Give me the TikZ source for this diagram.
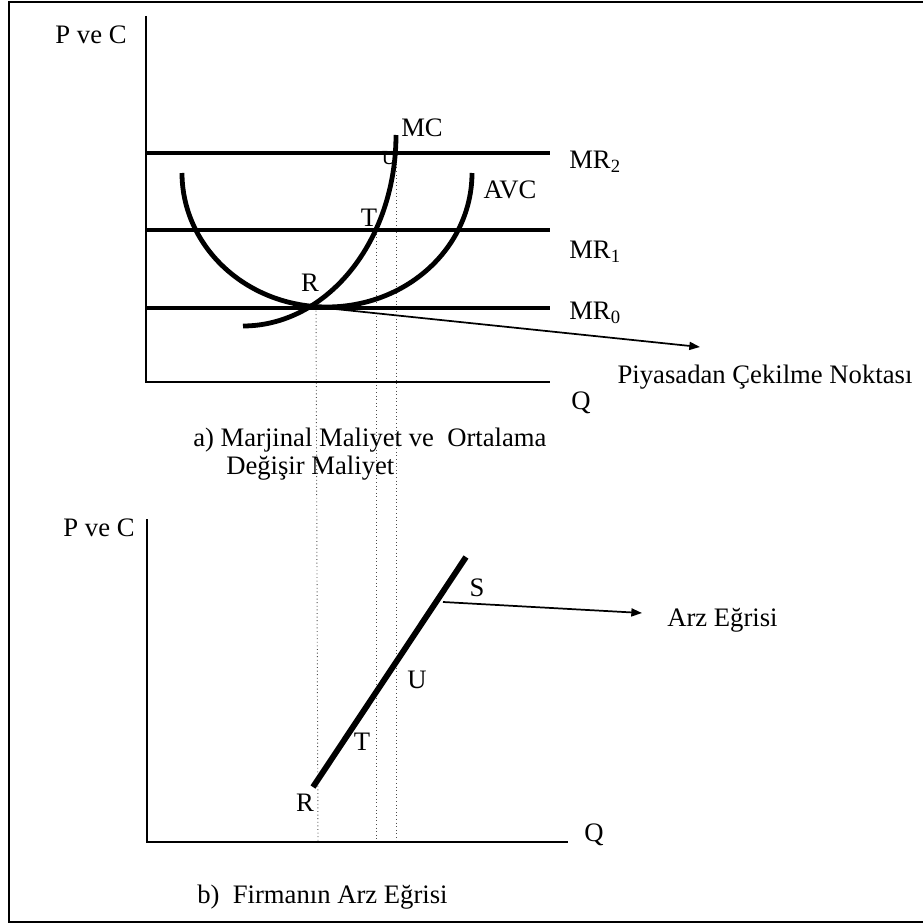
\documentclass[tikz,border=0pt]{standalone}
\usepackage{fontspec}
\setmainfont{Liberation Serif}
\usepackage{tikz}
\usetikzlibrary{positioning}
\usetikzlibrary{calc,arrows.meta}

\begin{document}
\begin{tikzpicture}[
x=0.75pt, y=-0.75pt,
txtnode/.style={inner sep=0pt, font=\fontsize{20}{24}\selectfont},
axisline/.style={line width=2.2pt},
mrline/.style={line width=3.6pt},
curveline/.style={line width=3.6pt},
guide/.style={dotted, gray!60!black, line width=0.7pt},
pointer/.style={line width=1.3pt, -{Triangle[length=8pt, width=6pt]}}
]
\useasboundingbox (0,0) rectangle (922,924);
%Frame
\draw[line width=1.1pt] (925,2) -- (9,2) -- (9,922) -- (925,922);
%Points
\coordinate (O1) at (146,382);
\coordinate (Y1) at (146,16);
\coordinate (X1) at (550,382);
\coordinate (O2) at (147,842);
\coordinate (Y2) at (147,519);
\coordinate (X2) at (568,842);
\coordinate (A2) at (146,153);
\coordinate (B2) at (550,153);
\coordinate (A1) at (146,230);
\coordinate (B1) at (550,230);
\coordinate (A0) at (146,308);
\coordinate (B0) at (550,308);
\coordinate (R) at (316,307);
\coordinate (T) at (376,230);
\coordinate (U) at (396,153);
\coordinate (Rb) at (318,842);
\coordinate (Tb) at (376,842);
\coordinate (Ub) at (396,842);
\coordinate (S1) at (313,787);
\coordinate (S2) at (466,557);
\coordinate (Sp) at (443,602);
%Nodes
\node[txtnode, font=\fontsize{15}{15}\selectfont] (smallU) at (389,158) {U};
\node[txtnode] (pc1) at (91,35) {P ve C};
\node[txtnode] (pc2) at (99,528) {P ve C};
\node[txtnode] (mc) at (422,128) {MC};
\node[txtnode] (avc) at (510,190) {AVC};
\node[txtnode] (lblT) at (369,218) {T};
\node[txtnode] (lblR) at (310,283) {R};
\node[txtnode] (mr2) at (595,162) {MR\textsubscript{2}};
\node[txtnode] (mr1) at (595,252) {MR\textsubscript{1}};
\node[txtnode] (mr0) at (595,313) {MR\textsubscript{0}};
\node[txtnode] (q1) at (581,403) {Q};
\node[txtnode] (exit) at (765,377) {Piyasadan Çekilme Noktası};
\node[txtnode, anchor=west] (capa1) at (193,440) {a) Marjinal Maliyet ve\ \ Ortalama};
\node[txtnode, anchor=west] (capa2) at (226,468) {Değişir Maliyet};
\node[txtnode] (lblS) at (477,588) {S};
\node[txtnode] (lblUb) at (417,680) {U};
\node[txtnode] (lblTb) at (362,742) {T};
\node[txtnode] (lblRb) at (305,803) {R};
\node[txtnode] (q2) at (594,835) {Q};
\node[txtnode, anchor=west] (arz) at (667,620) {Arz Eğrisi};
\node[txtnode, anchor=west] (capb) at (197,897) {b)\ \ Firmanın Arz Eğrisi};
\coordinate (exitTip) at (700,347);
\coordinate (arzTip) at (642,613);
%Lines
\draw[guide] (R) -- (Rb);
\draw[guide] (T) -- (Tb);
\draw[guide] (U) -- (Ub);
\draw[axisline] (Y1) -- (O1) -- (X1);
\draw[axisline] (Y2) -- (O2) -- (X2);
\draw[mrline] (A2) -- (B2);
\draw[mrline] (A1) -- (B1);
\draw[mrline] (A0) -- (B0);
\draw[curveline] plot[domain=0:180, samples=90, smooth] ({327+145*cos(\x)},{173+134*sin(\x)});
\draw[curveline] plot[domain=0:90, samples=60, smooth] ({243+153*cos(\x)},{135+191*sin(\x)});
\draw[line width=4.4pt] (S1) -- (S2);
\draw[pointer] (R) -- (exitTip);
\draw[pointer] (Sp) -- (arzTip);
\end{tikzpicture}
\end{document}
